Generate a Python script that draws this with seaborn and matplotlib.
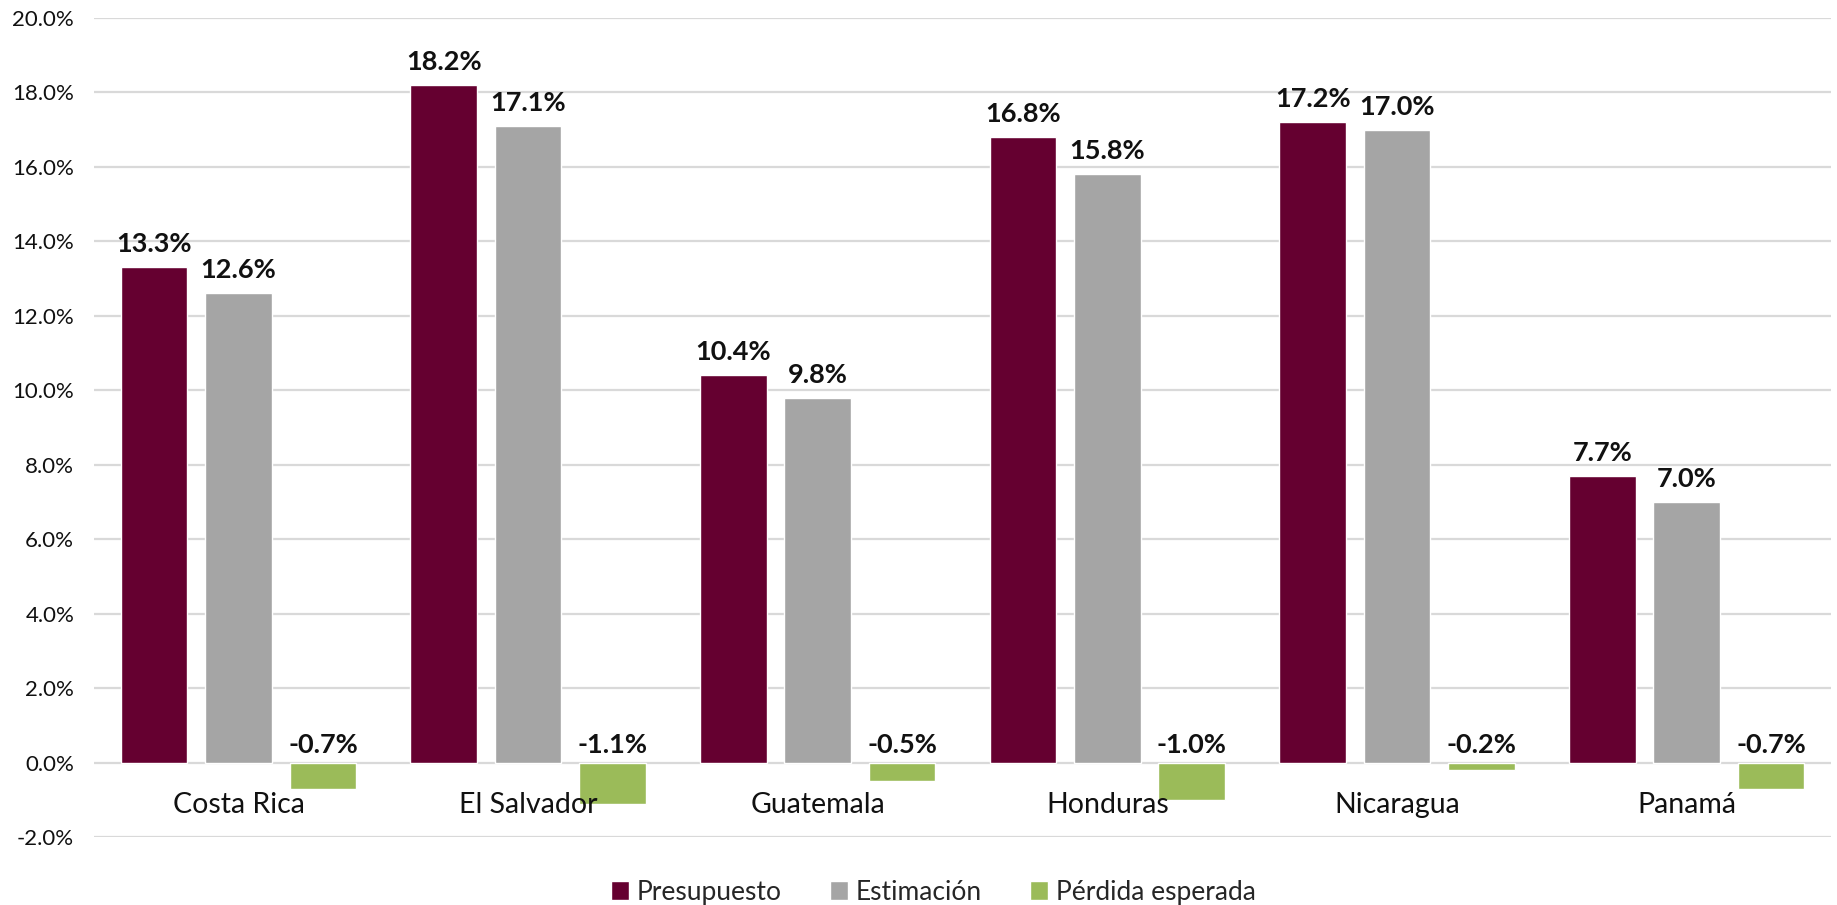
import matplotlib
matplotlib.use("Agg")
import matplotlib.pyplot as plt
import seaborn as sns
import pandas as pd
from matplotlib.ticker import FuncFormatter, MultipleLocator

countries = ["Costa Rica", "El Salvador", "Guatemala", "Honduras", "Nicaragua", "Panamá"]
series_names = ["Presupuesto", "Estimación", "Pérdida esperada"]
presupuesto = [13.3, 18.2, 10.4, 16.8, 17.2, 7.7]
estimacion = [12.6, 17.1, 9.8, 15.8, 17.0, 7.0]
perdida = [-0.7, -1.1, -0.5, -1.0, -0.2, -0.7]
colors = ["#650030", "#A5A5A5", "#9BBB59"]

sns.set_theme(style="white")
plt.rcParams["font.family"] = ["Lato", "DejaVu Sans"]

rows = []
for name, vals in zip(series_names, [presupuesto, estimacion, perdida]):
    for c, v in zip(countries, vals):
        rows.append({"País": c, "Serie": name, "Valor": v})
df = pd.DataFrame(rows)

fig = plt.figure(figsize=(18.37, 9.05), dpi=100)
ax = fig.add_axes([0.051, 0.0751, 0.946, 0.905])

sns.barplot(data=df, x="País", y="Valor", hue="Serie", order=countries,
            hue_order=series_names, palette=colors, width=0.874, gap=0.21,
            saturation=1, ax=ax, errorbar=None, zorder=3)

ax.set_ylim(-2, 20)
ax.set_xlim(-0.5, 5.5)
ax.yaxis.set_major_locator(MultipleLocator(2))
ax.yaxis.set_major_formatter(FuncFormatter(lambda v, p: f"{v:.1f}%"))
ax.grid(axis="y", color="#D9D9D9", linewidth=1.6, zorder=0)
ax.set_axisbelow(True)
for s in ax.spines.values():
    s.set_visible(False)
ax.set_xlabel("")
ax.set_ylabel("")
ax.tick_params(axis="y", length=0, pad=14, labelsize=16, labelcolor="#111111")
ax.set_xticks(range(len(countries)))
ax.set_xticklabels([])
ax.tick_params(axis="x", length=0)

for i, c in enumerate(countries):
    ax.annotate(c, (i, 0), xytext=(0, -21), textcoords="offset points",
                ha="center", va="top", fontsize=20.5, color="#111111", zorder=6)

for cont, vals in zip(ax.containers, [presupuesto, estimacion, perdida]):
    for bar, v in zip(cont, vals):
        x = bar.get_x() + bar.get_width() / 2
        ax.annotate(f"{v:.1f}%", (x, max(v, 0)), xytext=(0, 8 if v > 0 else 4),
                    textcoords="offset points", ha="center", va="bottom",
                    fontsize=19.5, fontweight="bold", color="#111111", zorder=5)

handles, labels = ax.get_legend_handles_labels()
ax.get_legend().remove()
fig.legend(handles, labels, loc="lower center", bbox_to_anchor=(0.508, -0.026),
           ncol=3, frameon=False, fontsize=19, handlelength=0.7, handleheight=0.7,
           handletextpad=0.3, columnspacing=1.8)

fig.savefig("out.png", dpi=100)
